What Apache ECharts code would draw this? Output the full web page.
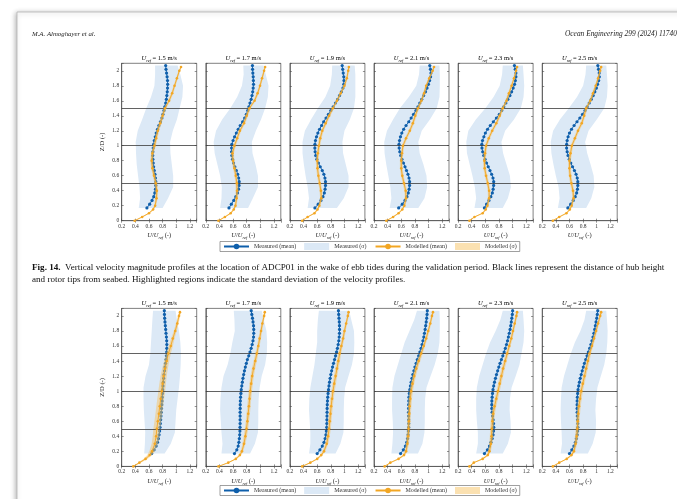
<!DOCTYPE html>
<html><head><meta charset="utf-8">
<script src="https://cdn.jsdelivr.net/npm/echarts@6/dist/echarts.min.js"></script>
<style>html,body{margin:0;padding:0;background:#fff}#c{width:677px;height:499px}</style>
</head><body><div id="c"></div>
<script>
// ---------- data ----------
const uRef = ['1.5', '1.7', '1.9', '2.1', '2.3', '2.5'];
const hubLines = [0.5, 1, 1.5];
const xTickVals = [0.2, 0.4, 0.6, 0.8, 1.0, 1.2];
const xTickLabels = ['0.2', '0.4', '0.6', '0.8', '1', '1.2'];
const yTickVals = [0, 0.2, 0.4, 0.6, 0.8, 1.0, 1.2, 1.4, 1.6, 1.8, 2.0];
const yTickLabels = ['0', '0.2', '0.4', '0.6', '0.8', '1', '1.2', '1.4', '1.6', '1.8', '2'];
const legendNames = ['Measured (mean)', 'Measured (σ)', 'Modelled (mean)', 'Modelled (σ)'];

const zMeas = [0.17,0.22,0.27,0.32,0.37,0.42,0.47,0.52,0.57,0.62,0.67,0.72,0.77,0.82,0.87,0.92,0.97,1.02,1.07,1.12,1.17,1.22,1.27,1.32,1.37,1.42,1.47,1.52,1.57,1.62,1.67,1.72,1.77,1.82,1.87,1.92,1.97,2.02,2.07];
const zBand = [0.17,0.3,0.45,0.6,0.75,0.9,1.05,1.2,1.35,1.5,1.65,1.8,1.95,2.07];
const zMod = [0,0.05,0.1,0.15,0.2,0.3,0.4,0.5,0.6,0.7,0.8,0.9,1.0,1.1,1.2,1.3,1.4,1.5,1.6,1.7,1.8,1.9,2.0,2.05];

// Fig. 14 (ebb tides) - measured mean
const ebbMeas15 = [0.57,0.61,0.645,0.67,0.685,0.695,0.70,0.70,0.695,0.688,0.678,0.668,0.662,0.657,0.655,0.657,0.662,0.668,0.678,0.692,0.706,0.725,0.745,0.768,0.79,0.805,0.82,0.832,0.845,0.855,0.862,0.868,0.872,0.874,0.872,0.866,0.858,0.85,0.845];
const ebbMeas17 = [0.54,0.575,0.61,0.64,0.665,0.68,0.688,0.69,0.682,0.668,0.648,0.626,0.607,0.592,0.582,0.578,0.578,0.582,0.6,0.622,0.648,0.675,0.705,0.74,0.77,0.795,0.815,0.832,0.848,0.865,0.878,0.888,0.895,0.9,0.898,0.895,0.89,0.886,0.884];
const ebbMeas19 = [0.567,0.615,0.655,0.685,0.705,0.716,0.722,0.722,0.714,0.698,0.675,0.645,0.618,0.595,0.578,0.57,0.566,0.567,0.575,0.59,0.61,0.635,0.665,0.695,0.73,0.765,0.8,0.835,0.868,0.9,0.928,0.955,0.978,0.99,0.993,0.99,0.982,0.974,0.967];
const ebbMeas21 = [0.562,0.615,0.655,0.683,0.703,0.715,0.722,0.722,0.714,0.698,0.677,0.655,0.632,0.61,0.592,0.578,0.569,0.567,0.574,0.588,0.608,0.635,0.67,0.71,0.745,0.78,0.815,0.845,0.872,0.9,0.928,0.955,0.978,0.998,1.015,1.03,1.035,1.028,1.018];
const ebbMeas23 = [0.586,0.618,0.652,0.68,0.702,0.714,0.721,0.722,0.712,0.692,0.668,0.642,0.617,0.595,0.576,0.561,0.55,0.548,0.558,0.578,0.6,0.632,0.672,0.717,0.762,0.805,0.84,0.87,0.9,0.93,0.96,0.985,1.008,1.028,1.04,1.048,1.048,1.038,1.026];
const ebbMeas25 = [0.576,0.618,0.655,0.684,0.705,0.717,0.722,0.722,0.714,0.697,0.673,0.645,0.619,0.597,0.579,0.566,0.558,0.558,0.566,0.58,0.6,0.63,0.668,0.71,0.752,0.792,0.828,0.86,0.89,0.92,0.948,0.972,0.995,1.012,1.028,1.038,1.036,1.026,1.016];
// Fig. 14 - measured sigma band (lower / upper edge on zBand)
const ebbLo15 = [0.45,0.47,0.46,0.44,0.42,0.41,0.405,0.435,0.50,0.56,0.63,0.68,0.69,0.69];
const ebbHi15 = [0.80,0.88,0.955,0.955,0.935,0.915,0.91,0.95,1.01,1.05,1.09,1.10,1.06,1.02];
const ebbLo17 = [0.41,0.43,0.435,0.41,0.37,0.33,0.315,0.35,0.44,0.56,0.66,0.73,0.755,0.75];
const ebbHi17 = [0.82,0.89,0.965,0.965,0.93,0.885,0.875,0.935,1.01,1.07,1.11,1.12,1.08,1.045];
const ebbLo19 = [0.46,0.48,0.46,0.43,0.405,0.385,0.385,0.42,0.51,0.61,0.72,0.79,0.815,0.82];
const ebbHi19 = [0.89,0.99,1.06,1.06,1.02,0.98,0.97,1.0,1.08,1.14,1.16,1.16,1.16,1.15];
const ebbLo21 = [0.43,0.455,0.44,0.41,0.38,0.355,0.35,0.39,0.48,0.58,0.71,0.82,0.86,0.87];
const ebbHi21 = [0.85,0.94,0.98,0.97,0.925,0.87,0.85,0.9,1.02,1.12,1.16,1.165,1.165,1.16];
const ebbLo23 = [0.44,0.465,0.445,0.41,0.37,0.33,0.32,0.35,0.46,0.6,0.72,0.81,0.845,0.855];
const ebbHi23 = [0.855,0.93,0.975,0.96,0.91,0.86,0.835,0.89,1.02,1.12,1.16,1.17,1.16,1.15];
const ebbLo25 = [0.43,0.455,0.44,0.40,0.365,0.335,0.325,0.36,0.46,0.59,0.71,0.80,0.835,0.845];
const ebbHi25 = [0.845,0.92,0.965,0.955,0.91,0.86,0.83,0.88,1.0,1.11,1.15,1.16,1.15,1.14];
// Fig. 14 - modelled mean (on zMod)
const ebbMod15 = [0.39,0.50,0.60,0.66,0.69,0.71,0.715,0.70,0.675,0.65,0.64,0.65,0.68,0.705,0.73,0.765,0.80,0.835,0.895,0.94,0.975,1.01,1.045,1.07];
const ebbMod17 = [0.385,0.48,0.565,0.61,0.635,0.652,0.658,0.655,0.64,0.62,0.60,0.592,0.62,0.66,0.70,0.76,0.80,0.84,0.915,0.96,0.995,1.025,1.055,1.07];
const ebbMod19 = [0.38,0.46,0.56,0.605,0.632,0.66,0.655,0.637,0.618,0.605,0.60,0.61,0.625,0.645,0.675,0.725,0.775,0.83,0.89,0.945,1.0,1.035,1.055,1.065];
const ebbMod21 = [0.38,0.48,0.56,0.615,0.645,0.67,0.665,0.64,0.615,0.60,0.60,0.61,0.625,0.67,0.725,0.77,0.805,0.845,0.895,0.935,0.965,1.01,1.06,1.08];
const ebbMod23 = [0.366,0.44,0.56,0.605,0.63,0.655,0.655,0.635,0.61,0.59,0.585,0.595,0.61,0.65,0.70,0.76,0.81,0.855,0.91,0.945,0.985,1.02,1.05,1.065];
const ebbMod25 = [0.356,0.45,0.555,0.605,0.632,0.66,0.652,0.628,0.61,0.60,0.60,0.615,0.635,0.68,0.725,0.78,0.815,0.845,0.905,0.945,0.985,1.02,1.05,1.065];
const ebbModSd = [0.01,0.012,0.015,0.015,0.015,0.018,0.02,0.02,0.02,0.02,0.02,0.02,0.02,0.02,0.02,0.02,0.02,0.02,0.018,0.018,0.015,0.015,0.012,0.01];

// second figure (flood tides) - measured mean
const fldMeas15 = [0.64,0.675,0.705,0.725,0.738,0.748,0.756,0.762,0.767,0.772,0.776,0.78,0.784,0.788,0.792,0.795,0.798,0.801,0.805,0.81,0.815,0.82,0.828,0.835,0.843,0.85,0.856,0.86,0.862,0.862,0.86,0.856,0.85,0.845,0.84,0.835,0.83,0.827,0.825];
const fldMeas17 = [0.62,0.655,0.675,0.685,0.692,0.697,0.70,0.702,0.703,0.703,0.703,0.703,0.704,0.705,0.707,0.71,0.715,0.72,0.728,0.736,0.745,0.755,0.767,0.78,0.795,0.81,0.83,0.848,0.865,0.88,0.892,0.9,0.903,0.903,0.9,0.893,0.885,0.875,0.866];
const fldMeas19 = [0.60,0.64,0.675,0.70,0.717,0.728,0.735,0.74,0.742,0.743,0.744,0.745,0.746,0.748,0.751,0.755,0.76,0.766,0.773,0.781,0.79,0.80,0.812,0.825,0.84,0.855,0.87,0.884,0.897,0.908,0.917,0.923,0.927,0.928,0.927,0.924,0.92,0.916,0.912];
const fldMeas21 = [0.59,0.63,0.66,0.68,0.692,0.70,0.705,0.708,0.709,0.709,0.708,0.707,0.707,0.708,0.71,0.713,0.718,0.725,0.734,0.745,0.757,0.77,0.785,0.80,0.818,0.835,0.855,0.873,0.89,0.905,0.918,0.93,0.94,0.95,0.958,0.966,0.973,0.978,0.982];
const fldMeas23 = [0.586,0.63,0.66,0.682,0.70,0.713,0.72,0.723,0.72,0.714,0.706,0.699,0.695,0.694,0.695,0.699,0.705,0.712,0.722,0.734,0.748,0.763,0.78,0.797,0.815,0.835,0.856,0.875,0.893,0.91,0.925,0.938,0.95,0.962,0.972,0.98,0.988,0.995,1.0];
const fldMeas25 = [0.60,0.635,0.665,0.687,0.702,0.713,0.72,0.722,0.721,0.718,0.715,0.713,0.712,0.712,0.713,0.716,0.72,0.726,0.735,0.746,0.758,0.772,0.787,0.803,0.82,0.838,0.858,0.877,0.896,0.914,0.93,0.945,0.958,0.97,0.98,0.99,1.0,1.008,1.015];
// measured sigma band
const fldLo15 = [0.53,0.54,0.545,0.535,0.525,0.52,0.52,0.55,0.6,0.62,0.63,0.64,0.65,0.66];
const fldHi15 = [0.83,0.92,0.98,0.99,1.0,1.02,1.04,1.055,1.065,1.07,1.06,1.04,1.01,0.99];
const fldLo17 = [0.43,0.445,0.43,0.42,0.41,0.415,0.43,0.46,0.52,0.56,0.59,0.625,0.62,0.61];
const fldHi17 = [0.85,0.92,0.965,0.97,0.97,0.975,0.99,1.02,1.07,1.095,1.1,1.09,1.05,1.02];
const fldLo19 = [0.48,0.5,0.5,0.49,0.48,0.485,0.5,0.53,0.56,0.58,0.6,0.6,0.61,0.625];
const fldHi19 = [0.87,0.94,0.985,0.99,0.99,0.995,1.01,1.06,1.11,1.14,1.145,1.14,1.1,1.07];
const fldLo21 = [0.455,0.47,0.48,0.475,0.465,0.465,0.47,0.5,0.55,0.6,0.65,0.72,0.79,0.83];
const fldHi21 = [0.845,0.91,0.94,0.945,0.945,0.95,0.97,1.03,1.09,1.135,1.16,1.165,1.165,1.16];
const fldLo23 = [0.465,0.49,0.49,0.475,0.465,0.465,0.475,0.51,0.56,0.61,0.67,0.75,0.82,0.855];
const fldHi23 = [0.855,0.93,0.975,0.97,0.955,0.96,0.985,1.045,1.1,1.13,1.16,1.17,1.16,1.15];
const fldLo25 = [0.47,0.49,0.485,0.475,0.47,0.475,0.485,0.52,0.57,0.62,0.68,0.76,0.82,0.845];
const fldHi25 = [0.87,0.94,0.985,0.99,0.98,0.99,1.01,1.06,1.11,1.14,1.155,1.16,1.15,1.14];
// modelled mean
const fldMod15 = [0.37,0.46,0.55,0.61,0.645,0.685,0.705,0.715,0.73,0.745,0.758,0.772,0.787,0.80,0.815,0.835,0.86,0.885,0.92,0.95,0.985,1.015,1.04,1.055];
const fldMod17 = [0.386,0.53,0.64,0.70,0.73,0.76,0.78,0.797,0.81,0.822,0.832,0.842,0.852,0.865,0.88,0.90,0.925,0.948,0.97,0.99,1.01,1.03,1.055,1.065];
const fldMod19 = [0.38,0.50,0.60,0.66,0.70,0.74,0.76,0.775,0.785,0.795,0.805,0.818,0.832,0.85,0.87,0.89,0.91,0.93,0.955,0.98,1.0,1.025,1.05,1.06];
const fldMod21 = [0.356,0.44,0.56,0.64,0.67,0.69,0.70,0.707,0.712,0.717,0.723,0.732,0.745,0.765,0.79,0.82,0.855,0.892,0.93,0.965,0.995,1.025,1.05,1.065];
const fldMod23 = [0.366,0.43,0.56,0.635,0.66,0.68,0.69,0.695,0.703,0.715,0.735,0.76,0.785,0.81,0.835,0.86,0.89,0.92,0.95,0.98,1.005,1.03,1.055,1.065];
const fldMod25 = [0.356,0.45,0.56,0.63,0.665,0.69,0.705,0.715,0.722,0.73,0.74,0.755,0.772,0.795,0.82,0.845,0.87,0.895,0.93,0.96,0.99,1.02,1.05,1.065];
const fldModSd15 = [0.015,0.02,0.03,0.035,0.04,0.045,0.05,0.05,0.05,0.05,0.05,0.05,0.05,0.048,0.045,0.042,0.038,0.035,0.03,0.025,0.022,0.02,0.018,0.015];
const fldModSd = [0.01,0.015,0.02,0.02,0.02,0.022,0.025,0.025,0.025,0.025,0.025,0.025,0.025,0.025,0.025,0.025,0.025,0.022,0.02,0.02,0.018,0.015,0.015,0.012];

// ---------- layout / style ----------
const FONT = 'Liberation Serif';
const C_BLUE = '#0f5fab', C_ORANGE = '#f2a623';
const C_BAND_B = '#dce9f6', C_BAND_O = 'rgba(248,196,100,0.5)';
const AX = '#4a4a4a';
const LEFT0 = 121.7, STEP = 84.1, PW = 75;
const rows = [
  {top: 63.3, h: 157.4, legendTop: 241.5, titleY: 58.5,
   meas: [ebbMeas15, ebbMeas17, ebbMeas19, ebbMeas21, ebbMeas23, ebbMeas25],
   lo: [ebbLo15, ebbLo17, ebbLo19, ebbLo21, ebbLo23, ebbLo25],
   hi: [ebbHi15, ebbHi17, ebbHi19, ebbHi21, ebbHi23, ebbHi25],
   mod: [ebbMod15, ebbMod17, ebbMod19, ebbMod21, ebbMod23, ebbMod25],
   sd: [ebbModSd, ebbModSd, ebbModSd, ebbModSd, ebbModSd, ebbModSd]},
  {top: 308.4, h: 158, legendTop: 485.5, titleY: 303.5,
   meas: [fldMeas15, fldMeas17, fldMeas19, fldMeas21, fldMeas23, fldMeas25],
   lo: [fldLo15, fldLo17, fldLo19, fldLo21, fldLo23, fldLo25],
   hi: [fldHi15, fldHi17, fldHi19, fldHi21, fldHi23, fldHi25],
   mod: [fldMod15, fldMod17, fldMod19, fldMod21, fldMod23, fldMod25],
   sd: [fldModSd15, fldModSd, fldModSd, fldModSd, fldModSd, fldModSd]}
];

function tickFmt(vals, labels) {
  return function (v) {
    for (let i = 0; i < vals.length; i++) if (Math.abs(v - vals[i]) < 1e-6) return labels[i];
    return '';
  };
}
const richUref = {
  i: {fontFamily: FONT, fontStyle: 'italic', fontSize: 6.5, lineHeight: 9, color: '#222'},
  s: {fontFamily: FONT, fontStyle: 'italic', fontSize: 4.3, lineHeight: 4.5, verticalAlign: 'bottom', color: '#222'},
  n: {fontFamily: FONT, fontSize: 6.5, lineHeight: 9, color: '#222'}
};

function bandSeries(name, idx, xs0, xs1, zs, fill) {
  const data = zs.map((z, i) => [xs0[i], xs1[i], z]);
  return {
    type: 'custom', name: name, xAxisIndex: idx, yAxisIndex: idx, silent: true, clip: true,
    itemStyle: {color: fill}, z: 1,
    data: data,
    renderItem: function (params, api) {
      if (params.dataIndex !== 0) return null;
      const pts = [];
      for (let i = 0; i < data.length; i++) pts.push(api.coord([data[i][0], data[i][2]]));
      for (let i = data.length - 1; i >= 0; i--) pts.push(api.coord([data[i][1], data[i][2]]));
      return {type: 'polygon', shape: {points: pts}, style: {fill: fill, stroke: null}};
    }
  };
}

const grid = [], xAxis = [], yAxis = [], series = [], graphic = [];
const N = 12;
rows.forEach((row, r) => {
  for (let c = 0; c < 6; c++) {
    const idx = r * 6 + c;
    const left = LEFT0 + STEP * c;
    grid.push({left: left, top: row.top, width: PW, height: row.h, show: true,
      borderColor: AX, borderWidth: 0.7, backgroundColor: 'transparent'});
    const tick = {show: true, inside: true, length: 2, lineStyle: {color: AX, width: 0.6}};
    xAxis[idx] = {type: 'value', gridIndex: idx, min: 0.2, max: 1.3, interval: 0.2, position: 'bottom',
      axisLine: {show: true, lineStyle: {color: AX, width: 0.7}}, axisTick: tick, splitLine: {show: false},
      axisLabel: {fontFamily: FONT, fontSize: 5.5, color: '#333', margin: 2.5, formatter: tickFmt(xTickVals, xTickLabels)},
      name: '{i|U}/{i|U}{s|ref} (-)', nameLocation: 'middle', nameGap: 10,
      nameTextStyle: {fontFamily: FONT, fontSize: 6.5, lineHeight: 9, color: '#222', rich: richUref}};
    xAxis[idx + N] = {type: 'value', gridIndex: idx, min: 0.2, max: 1.3, interval: 0.2, position: 'top',
      axisLine: {show: false}, axisTick: tick, axisLabel: {show: false}, splitLine: {show: false}};
    yAxis[idx] = {type: 'value', gridIndex: idx, min: 0, max: 2.1, interval: 0.2, position: 'left',
      axisLine: {show: true, lineStyle: {color: AX, width: 0.7}}, axisTick: tick, splitLine: {show: false},
      axisLabel: {show: c === 0, fontFamily: FONT, fontSize: 5.5, color: '#333', margin: 2.5, formatter: tickFmt(yTickVals, yTickLabels)},
      name: c === 0 ? 'Z/D (-)' : '', nameLocation: 'middle', nameGap: 15.5, nameRotate: 90,
      nameTextStyle: {fontFamily: FONT, fontSize: 6.5, color: '#222'}};
    yAxis[idx + N] = {type: 'value', gridIndex: idx, min: 0, max: 2.1, interval: 0.2, position: 'right',
      axisLine: {show: false}, axisTick: tick, axisLabel: {show: false}, splitLine: {show: false}};

    // measured sigma band
    series.push(bandSeries(legendNames[1], idx, row.lo[c], row.hi[c], zBand, C_BAND_B));
    // measured mean with hub/rotor-tip lines
    series.push({type: 'line', name: legendNames[0], xAxisIndex: idx, yAxisIndex: idx, z: 3,
      data: zMeas.map((z, i) => [row.meas[c][i], z]),
      symbol: 'circle', symbolSize: 3.2, lineStyle: {color: C_BLUE, width: 0.9}, itemStyle: {color: C_BLUE},
      markLine: {silent: true, symbol: 'none', label: {show: false}, animation: false,
        lineStyle: {color: '#3a3a3a', type: 'solid', width: 0.8},
        data: hubLines.map(v => ({yAxis: v}))}});
    // modelled sigma band
    const m = row.mod[c], s = row.sd[c];
    series.push(bandSeries(legendNames[3], idx, m.map((v, i) => v - s[i]), m.map((v, i) => v + s[i]), zMod, C_BAND_O));
    series[series.length - 1].z = 4;
    // modelled mean
    series.push({type: 'line', name: legendNames[2], xAxisIndex: idx, yAxisIndex: idx, z: 5,
      data: zMod.map((z, i) => [m[i], z]),
      symbol: 'circle', symbolSize: 2.6, lineStyle: {color: C_ORANGE, width: 0.9}, itemStyle: {color: C_ORANGE}});

    // panel title
    graphic.push({type: 'text', x: left + PW / 2, y: row.titleY, z: 10,
      style: {text: '{i|U}{s|ref}{n| = ' + uRef[c] + ' m/s}', rich: richUref, align: 'center', verticalAlign: 'middle',
        fontFamily: FONT, fontSize: 6.5}});
  }
});

const legendBase = {left: 220, orient: 'horizontal', itemWidth: 25, itemHeight: 7, itemGap: 8,
  padding: [1.5, 3], borderColor: '#777', borderWidth: 0.7, backgroundColor: '#fff', selectedMode: false,
  textStyle: {fontFamily: FONT, fontSize: 6, color: '#333'},
  data: [{name: legendNames[0]}, {name: legendNames[1], icon: 'rect'}, {name: legendNames[2]}, {name: legendNames[3], icon: 'rect'}]};

// page frame, header, caption
graphic.push({type: 'rect', z: -10, shape: {x: 17, y: 12, width: 720, height: 560},
  style: {fill: '#fff', stroke: '#b5b5b5', lineWidth: 0.8, shadowBlur: 5, shadowColor: 'rgba(0,0,0,0.3)', shadowOffsetX: -1, shadowOffsetY: 1}});
graphic.push({type: 'text', x: 32, y: 34, z: 10, style: {text: 'M.A. Almoghayer et al.', fontFamily: FONT, fontStyle: 'italic', fontSize: 6.8, fill: '#222', verticalAlign: 'middle'}});
graphic.push({type: 'text', x: 565, y: 34, z: 10, style: {text: 'Ocean Engineering 299 (2024) 117402', fontFamily: FONT, fontStyle: 'italic', fontSize: 7.4, fill: '#222', verticalAlign: 'middle'}});
graphic.push({type: 'text', x: 32, y: 268, z: 10, style: {
  text: '{b|Fig. 14.}  Vertical velocity magnitude profiles at the location of ADCP01 in the wake of ebb tides during the validation period. Black lines represent the distance of hub height',
  rich: {b: {fontFamily: FONT, fontWeight: 'bold', fontSize: 9.1, fill: '#111'}},
  fontFamily: FONT, fontSize: 9.1, fill: '#111', verticalAlign: 'middle'}});
graphic.push({type: 'text', x: 32, y: 280, z: 10, style: {
  text: 'and rotor tips from seabed. Highlighted regions indicate the standard deviation of the velocity profiles.',
  fontFamily: FONT, fontSize: 9.1, fill: '#111', verticalAlign: 'middle'}});

const chart = echarts.init(document.getElementById('c'), null, {renderer: 'canvas'});
chart.setOption({
  backgroundColor: '#fff',
  animation: false,
  grid: grid, xAxis: xAxis, yAxis: yAxis, series: series, graphic: graphic,
  legend: rows.map(row => Object.assign({}, legendBase, {top: row.legendTop}))
});
</script></body></html>
